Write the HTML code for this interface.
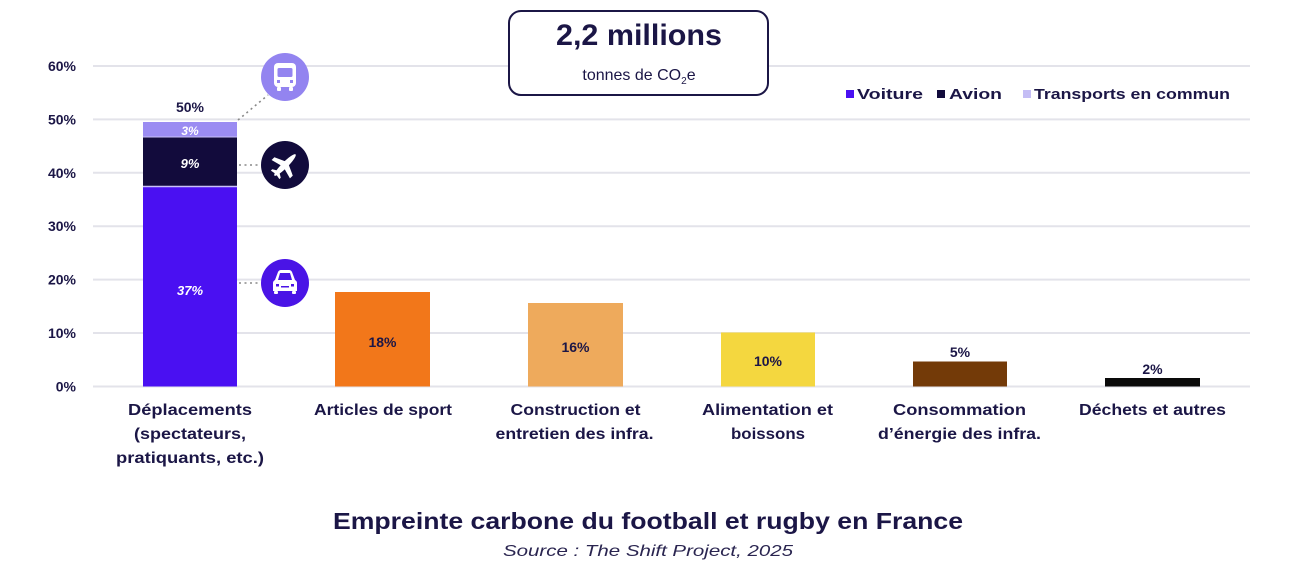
<!DOCTYPE html>
<html><head><meta charset="utf-8"><style>
html,body{margin:0;padding:0;background:#fff;}
svg{display:block;font-family:"Liberation Sans",sans-serif;}
</style></head><body>
<svg width="1300" height="570" viewBox="0 0 1300 570" xmlns="http://www.w3.org/2000/svg">
<rect width="1300" height="570" fill="#fff"/>
<!-- gridlines -->
<g stroke="#e3e3ea" stroke-width="2">
<line x1="93" y1="66" x2="1250" y2="66"/>
<line x1="93" y1="119.4" x2="1250" y2="119.4"/>
<line x1="93" y1="172.8" x2="1250" y2="172.8"/>
<line x1="93" y1="226.2" x2="1250" y2="226.2"/>
<line x1="93" y1="279.6" x2="1250" y2="279.6"/>
<line x1="93" y1="333" x2="1250" y2="333"/>
<line x1="93" y1="386.5" x2="1250" y2="386.5"/>
</g>
<!-- y labels -->
<g font-weight="bold" font-size="14" fill="#1b1646" text-anchor="end">
<text x="76" y="71">60%</text>
<text x="76" y="124.4">50%</text>
<text x="76" y="177.8">40%</text>
<text x="76" y="231.2">30%</text>
<text x="76" y="284.6">20%</text>
<text x="76" y="338">10%</text>
<text x="76" y="391.5">0%</text>
</g>
<!-- box -->
<rect x="509" y="11" width="259" height="84" rx="12" fill="#fff" stroke="#1b1646" stroke-width="2"/>
<text x="639" y="45" text-anchor="middle" font-weight="bold" font-size="30" fill="#1b1646" textLength="166" lengthAdjust="spacingAndGlyphs">2,2 millions</text>
<text x="639" y="80" text-anchor="middle" font-size="16" fill="#1b1646">tonnes de CO<tspan font-size="10" dy="4">2</tspan><tspan dy="-4">e</tspan></text>
<!-- legend -->
<g font-weight="bold" font-size="15" fill="#1b1646">
<rect x="846" y="90" width="8" height="8" fill="#4a10f2"/>
<text x="857" y="99" textLength="66" lengthAdjust="spacingAndGlyphs">Voiture</text>
<rect x="937" y="90" width="8" height="8" fill="#120b3c"/>
<text x="949" y="99" textLength="53" lengthAdjust="spacingAndGlyphs">Avion</text>
<rect x="1023" y="90" width="8" height="8" fill="#c4bdf5"/>
<text x="1034" y="99" textLength="196" lengthAdjust="spacingAndGlyphs">Transports en commun</text>
</g>
<!-- bar 1 stacked -->
<rect x="143" y="187" width="94" height="199.5" fill="#4a10f2"/>
<rect x="143" y="137.5" width="94" height="48.5" fill="#120b3c"/>
<rect x="143" y="122" width="94" height="14.5" fill="#9b8cf2"/>
<line x1="143" y1="186.5" x2="237" y2="186.5" stroke="#c9c0fa" stroke-width="1.5"/>
<line x1="143" y1="137" x2="237" y2="137" stroke="#c9c0fa" stroke-width="1"/>
<g font-weight="bold" font-style="italic" font-size="13" fill="#fff" text-anchor="middle">
<text x="190" y="295">37%</text>
<text x="190" y="168">9%</text>
<text x="190" y="135" font-size="12">3%</text>
</g>
<text x="190" y="112" text-anchor="middle" font-weight="bold" font-size="14" fill="#1b1646">50%</text>
<!-- other bars -->
<rect x="335" y="292" width="95" height="94.5" fill="#f2771a"/>
<rect x="528" y="303" width="95" height="83.5" fill="#eeaa5c"/>
<rect x="721" y="332.5" width="94" height="54" fill="#f4d73f"/>
<rect x="913" y="361.5" width="94" height="25" fill="#733a08"/>
<rect x="1105" y="378" width="95" height="8.5" fill="#0a0a0a"/>
<g font-weight="bold" font-size="14" fill="#1b1646" text-anchor="middle">
<text x="382.5" y="347">18%</text>
<text x="575.5" y="352">16%</text>
<text x="768" y="366">10%</text>
<text x="960" y="357">5%</text>
<text x="1152.5" y="374">2%</text>
</g>
<!-- connectors -->
<g stroke="#888" stroke-width="1.6" stroke-dasharray="2 3.5" fill="none">
<line x1="238" y1="120" x2="268" y2="95"/>
<line x1="239" y1="165" x2="261" y2="165"/>
<line x1="239" y1="283" x2="261" y2="283"/>
</g>
<!-- icons -->
<circle cx="285" cy="77" r="24" fill="#9384f0"/>
<g fill="#fff">
<rect x="274" y="63" width="22" height="24" rx="4"/>
<rect x="277" y="87" width="4" height="4" rx="1"/>
<rect x="289" y="87" width="4" height="4" rx="1"/>
</g>
<rect x="277.5" y="68" width="15" height="9" rx="1.5" fill="#9384f0"/>
<rect x="277" y="80" width="3" height="3" fill="#9384f0"/>
<rect x="290" y="80" width="3" height="3" fill="#9384f0"/>
<circle cx="285" cy="165" r="24" fill="#120b3c"/>
<g transform="translate(285 165) rotate(-45)" fill="#fff">
<ellipse cx="0" cy="0" rx="15" ry="3"/>
<polygon points="-3,-2 3,-2 -2,-13 -6,-13"/>
<polygon points="-3,2 3,2 -2,13 -6,13"/>
<polygon points="-13,-1 -9,-1 -12,-6 -14,-6"/>
<polygon points="-13,1 -9,1 -12,6 -14,6"/>
</g>
<circle cx="285" cy="283" r="24" fill="#4a14e6"/>
<g fill="#fff">
<path d="M275 280 L278 272 Q279 270 281 270 L289 270 Q291 270 292 272 L295 280 Q297 281 297 283 L297 291 L273 291 L273 283 Q273 281 275 280 Z"/>
<rect x="274" y="291" width="4" height="3" rx="1"/>
<rect x="292" y="291" width="4" height="3" rx="1"/>
</g>
<path d="M278 280 L280 273 L290 273 L292 280 Z" fill="#4a14e6"/>
<rect x="276" y="284" width="3" height="2.5" fill="#4a14e6"/>
<rect x="291" y="284" width="3" height="2.5" fill="#4a14e6"/>
<rect x="281" y="286" width="8" height="1.5" fill="#4a14e6"/>
<!-- category labels -->
<g font-weight="bold" font-size="15.5" fill="#1b1646" text-anchor="middle">
<text x="190" y="415" textLength="124" lengthAdjust="spacingAndGlyphs">Déplacements</text>
<text x="190" y="439" textLength="112" lengthAdjust="spacingAndGlyphs">(spectateurs,</text>
<text x="190" y="463" textLength="148" lengthAdjust="spacingAndGlyphs">pratiquants, etc.)</text>
<text x="383" y="415" textLength="138" lengthAdjust="spacingAndGlyphs">Articles de sport</text>
<text x="575.5" y="415" textLength="130" lengthAdjust="spacingAndGlyphs">Construction et</text>
<text x="574.5" y="439" textLength="158" lengthAdjust="spacingAndGlyphs">entretien des infra.</text>
<text x="767.5" y="415" textLength="131" lengthAdjust="spacingAndGlyphs">Alimentation et</text>
<text x="768" y="439" textLength="74" lengthAdjust="spacingAndGlyphs">boissons</text>
<text x="959.5" y="415" textLength="133" lengthAdjust="spacingAndGlyphs">Consommation</text>
<text x="959.5" y="439" textLength="163" lengthAdjust="spacingAndGlyphs">d’énergie des infra.</text>
<text x="1152.5" y="415" textLength="147" lengthAdjust="spacingAndGlyphs">Déchets et autres</text>
</g>
<!-- title -->
<text x="648" y="529" text-anchor="middle" font-weight="bold" font-size="23" fill="#1b1646" textLength="630" lengthAdjust="spacingAndGlyphs">Empreinte carbone du football et rugby en France</text>
<text x="648" y="556" text-anchor="middle" font-style="italic" font-size="16" fill="#2a2550" textLength="290" lengthAdjust="spacingAndGlyphs">Source : The Shift Project, 2025</text>
</svg>
</body></html>
